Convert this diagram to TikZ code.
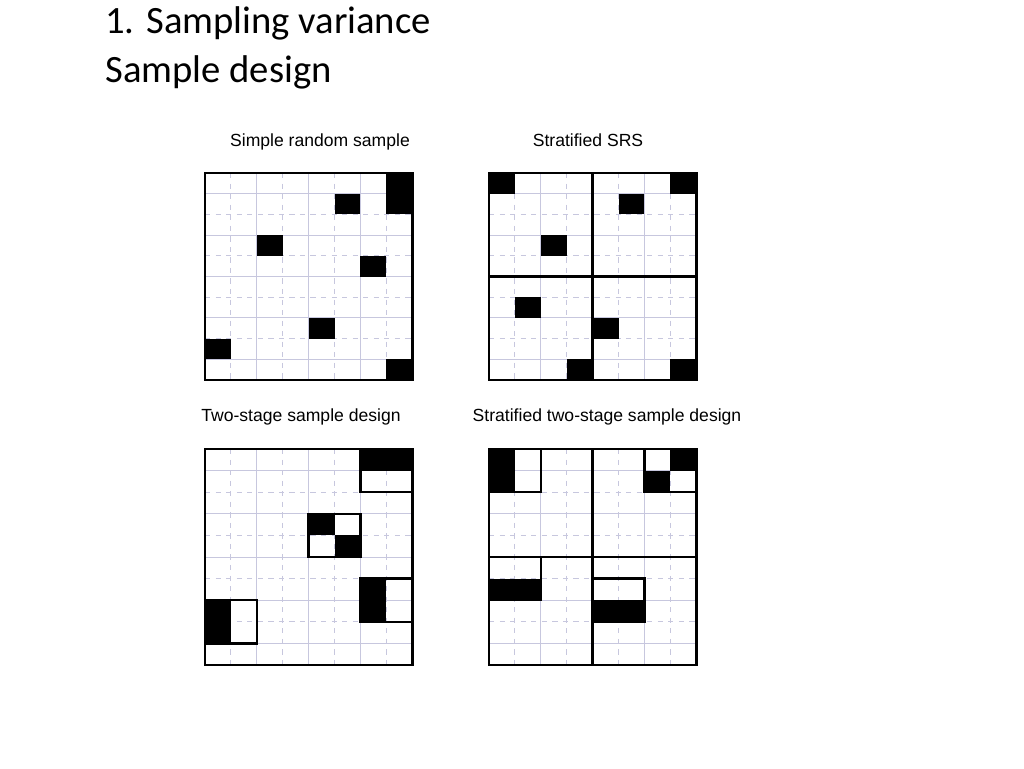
\documentclass[tikz,border=0pt]{standalone}
\usepackage{fontspec}
\setmainfont{Carlito}
\newfontfamily\labelfont{Liberation Sans}

% one cell of a panel, filled black
\newcommand{\blk}[2]{\fill[black] (#1*\cw, -#2*\ch) rectangle ++(\cw, -\ch);}
% outline of a cluster box
\newcommand{\clus}[4]{\draw[boxline] (#1*\cw, -#2*\ch) rectangle (#3*\cw+\cw, -#4*\ch-\ch);}
% light grid with 8 columns and 10 rows
\newcommand{\panelgrid}{%
  \foreach \i in {1,...,7} {
    \pgfmathsetmacro{\dsh}{mod(\i,2)}
    \ifdim\dsh pt=0pt \draw[gridline] (\i*\cw, 0) -- (\i*\cw, -10*\ch);
    \else \draw[gridline, dashed] (\i*\cw, 0) -- (\i*\cw, -10*\ch); \fi
  }
  \foreach \j in {1,...,9} {
    \pgfmathsetmacro{\dsh}{mod(\j,2)}
    \ifdim\dsh pt=0pt \draw[gridline, dashed] (0, -\j*\ch) -- (8*\cw, -\j*\ch);
    \else \draw[gridline] (0, -\j*\ch) -- (8*\cw, -\j*\ch); \fi
  }}
\newcommand{\strata}{%
  \draw[boxline] (4*\cw, 0) -- (4*\cw, -10*\ch);
  \draw[boxline] (0, -5*\ch) -- (8*\cw, -5*\ch);}

\begin{document}
\begin{tikzpicture}[
    x = 0.02cm, y = 0.02cm,
    gridline/.style = {color=blue!25!gray!35, line width=0.5pt},
    boxline/.style = {black, line width=1.4pt},
    frame/.style = {black, line width=1.6pt},
    paneltitle/.style = {font=\labelfont\fontsize{10}{12}\selectfont, anchor=base},
    heading/.style = {font=\fontsize{22}{26}\selectfont, anchor=base west, inner sep=0pt}
]
    \useasboundingbox (0,0) rectangle (1024,-768);

    \node[heading] (head1) at (105,-33) {1. Sampling variance};
    \node[heading] (head2) at (105,-82) {Sample design};

    \node[paneltitle] (t1) at (320,-146) {Simple random sample};
    \node[paneltitle] (t2) at (588,-146) {Stratified SRS};
    \node[paneltitle] (t3) at (301,-421) {Two-stage sample design};
    \node[paneltitle] (t4) at (607,-421) {Stratified two-stage sample design};

    % simple random sample
    \begin{scope}[shift={(205,-173)}]
        \def\cw{25.9} \def\ch{20.7}
        \panelgrid
        \foreach \c/\r in {7/0,7/1,5/1,2/3,6/4,4/7,0/8,7/9} {\blk{\c}{\r}}
        \draw[frame] (0,0) rectangle (8*\cw, -10*\ch);
    \end{scope}

    % stratified SRS
    \begin{scope}[shift={(489,-173)}]
        \def\cw{25.9} \def\ch{20.7}
        \panelgrid
        \foreach \c/\r in {0/0,7/0,5/1,2/3,1/6,4/7,3/9,7/9} {\blk{\c}{\r}}
        \strata
        \draw[frame] (0,0) rectangle (8*\cw, -10*\ch);
    \end{scope}

    % two-stage sample design
    \begin{scope}[shift={(205,-449)}]
        \def\cw{25.9} \def\ch{21.6}
        \panelgrid
        \foreach \c/\r in {6/0,7/0,4/3,5/4,6/6,6/7,0/7,0/8} {\blk{\c}{\r}}
        \clus{6}{0}{7}{1}
        \clus{4}{3}{5}{4}
        \clus{6}{6}{7}{7}
        \clus{0}{7}{1}{8}
        \draw[frame] (0,0) rectangle (8*\cw, -10*\ch);
    \end{scope}

    % stratified two-stage sample design
    \begin{scope}[shift={(489,-449)}]
        \def\cw{25.9} \def\ch{21.6}
        \panelgrid
        \foreach \c/\r in {0/0,0/1,7/0,6/1,0/6,1/6,4/7,5/7} {\blk{\c}{\r}}
        \clus{0}{0}{1}{1}
        \clus{6}{0}{7}{1}
        \clus{0}{5}{1}{6}
        \clus{4}{6}{5}{7}
        \strata
        \draw[frame] (0,0) rectangle (8*\cw, -10*\ch);
    \end{scope}
\end{tikzpicture}
\end{document}
